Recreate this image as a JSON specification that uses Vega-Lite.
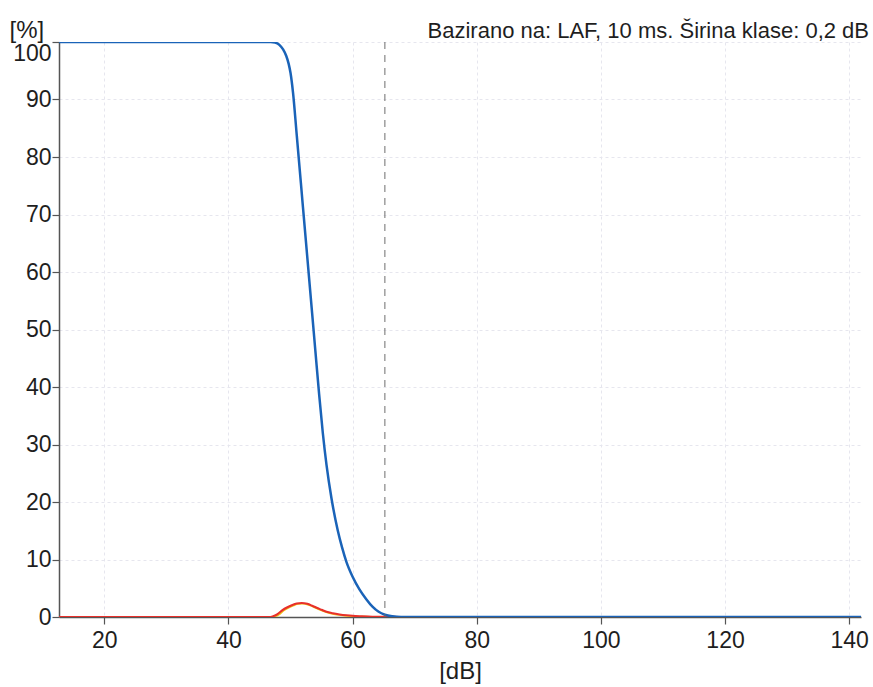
{
  "$schema": "https://vega.github.io/schema/vega-lite/v6.json",
  "autosize": {"type": "none"},
  "width": 802,
  "height": 575,
  "padding": {"left": 59, "top": 42, "right": 12, "bottom": 70},
  "background": "white",
  "title": {
    "text": "Bazirano na: LAF, 10 ms. Širina klase: 0,2 dB",
    "anchor": "end",
    "frame": "group",
    "font": "Liberation Sans",
    "fontSize": 22,
    "fontWeight": "normal",
    "color": "#1e1e1e",
    "dx": 8,
    "dy": 29,
    "offset": 4
  },
  "config": {
    "view": {"stroke": null},
    "axis": {
      "labelFont": "Liberation Sans",
      "labelFontSize": 23,
      "labelColor": "#1e1e1e",
      "titleFont": "Liberation Sans",
      "titleFontSize": 24,
      "titleFontWeight": "normal",
      "titleColor": "#1e1e1e",
      "domainColor": "#555555",
      "domainWidth": 1.5,
      "tickColor": "#555555",
      "tickWidth": 1.2,
      "tickSize": 7,
      "gridColor": "#e6e6ee",
      "gridDash": [3, 3],
      "gridWidth": 1
    }
  },
  "datasets": {
    "curves": [
      {"db": 12.7, "pct": 0, "s": "yellow"},
      {"db": 46.5, "pct": 0, "s": "yellow"},
      {"db": 47.3, "pct": 0.05, "s": "yellow"},
      {"db": 48.1, "pct": 0.4, "s": "yellow"},
      {"db": 48.9, "pct": 1.1, "s": "yellow"},
      {"db": 49.7, "pct": 1.6, "s": "yellow"},
      {"db": 50.5, "pct": 2.0, "s": "yellow"},
      {"db": 51.2, "pct": 2.25, "s": "yellow"},
      {"db": 52.0, "pct": 2.3, "s": "yellow"},
      {"db": 52.9, "pct": 2.1, "s": "yellow"},
      {"db": 53.7, "pct": 1.75, "s": "yellow"},
      {"db": 54.4, "pct": 1.4, "s": "yellow"},
      {"db": 55.2, "pct": 1.05, "s": "yellow"},
      {"db": 56.0, "pct": 0.75, "s": "yellow"},
      {"db": 57.0, "pct": 0.5, "s": "yellow"},
      {"db": 58.1, "pct": 0.33, "s": "yellow"},
      {"db": 59.2, "pct": 0.2, "s": "yellow"},
      {"db": 60.5, "pct": 0.12, "s": "yellow"},
      {"db": 62.0, "pct": 0.06, "s": "yellow"},
      {"db": 64.0, "pct": 0.02, "s": "yellow"},
      {"db": 67.6, "pct": 0, "s": "yellow"},

      {"db": 12.7, "pct": 0, "s": "red"},
      {"db": 46.5, "pct": 0, "s": "red"},
      {"db": 47.1, "pct": 0.1, "s": "red"},
      {"db": 47.9, "pct": 0.5, "s": "red"},
      {"db": 48.7, "pct": 1.2, "s": "red"},
      {"db": 49.5, "pct": 1.7, "s": "red"},
      {"db": 50.3, "pct": 2.1, "s": "red"},
      {"db": 51.0, "pct": 2.35, "s": "red"},
      {"db": 51.8, "pct": 2.45, "s": "red"},
      {"db": 52.7, "pct": 2.3, "s": "red"},
      {"db": 53.5, "pct": 1.95, "s": "red"},
      {"db": 54.2, "pct": 1.6, "s": "red"},
      {"db": 55.0, "pct": 1.25, "s": "red"},
      {"db": 55.8, "pct": 0.9, "s": "red"},
      {"db": 56.8, "pct": 0.65, "s": "red"},
      {"db": 57.9, "pct": 0.45, "s": "red"},
      {"db": 59.0, "pct": 0.3, "s": "red"},
      {"db": 60.0, "pct": 0.2, "s": "red"},
      {"db": 61.5, "pct": 0.12, "s": "red"},
      {"db": 63.2, "pct": 0.05, "s": "red"},
      {"db": 65.0, "pct": 0.02, "s": "red"},
      {"db": 67.6, "pct": 0, "s": "red"},
      {"db": 141.9, "pct": 0, "s": "red"},

      {"db": 12.7, "pct": 100, "s": "blue"},
      {"db": 46.8, "pct": 100, "s": "blue"},
      {"db": 47.5, "pct": 99.9, "s": "blue"},
      {"db": 48.2, "pct": 99.5, "s": "blue"},
      {"db": 48.8, "pct": 98.7, "s": "blue"},
      {"db": 49.3, "pct": 97.6, "s": "blue"},
      {"db": 49.7, "pct": 96.2, "s": "blue"},
      {"db": 50.0, "pct": 94.6, "s": "blue"},
      {"db": 50.4, "pct": 91.2, "s": "blue"},
      {"db": 51.0, "pct": 83.8, "s": "blue"},
      {"db": 52.0, "pct": 71.3, "s": "blue"},
      {"db": 53.0, "pct": 58.8, "s": "blue"},
      {"db": 54.0, "pct": 46.3, "s": "blue"},
      {"db": 54.6, "pct": 38.8, "s": "blue"},
      {"db": 55.2, "pct": 32.0, "s": "blue"},
      {"db": 55.8, "pct": 26.4, "s": "blue"},
      {"db": 56.6, "pct": 20.6, "s": "blue"},
      {"db": 57.6, "pct": 15.1, "s": "blue"},
      {"db": 58.3, "pct": 12.1, "s": "blue"},
      {"db": 59.0, "pct": 9.6, "s": "blue"},
      {"db": 60.0, "pct": 7.0, "s": "blue"},
      {"db": 61.1, "pct": 4.8, "s": "blue"},
      {"db": 62.2, "pct": 3.1, "s": "blue"},
      {"db": 63.2, "pct": 1.8, "s": "blue"},
      {"db": 64.2, "pct": 0.9, "s": "blue"},
      {"db": 65.2, "pct": 0.4, "s": "blue"},
      {"db": 66.4, "pct": 0.12, "s": "blue"},
      {"db": 67.8, "pct": 0, "s": "blue"},
      {"db": 141.9, "pct": 0, "s": "blue"}
    ],
    "marker": [{"db": 65.2}]
  },
  "layer": [
    {
      "data": {"name": "curves"},
      "mark": {"type": "line", "interpolate": "monotone", "clip": true},
      "encoding": {
        "x": {
          "field": "db", "type": "quantitative",
          "scale": {"domain": [12.7, 141.9], "nice": false, "zero": false},
          "axis": {
            "values": [20, 40, 60, 80, 100, 120, 140],
            "title": "[dB]",
            "titleY": 42,
            "titleBaseline": "top",
            "labelPadding": 5,
            "labelFlush": false,
            "grid": true
          }
        },
        "y": {
          "field": "pct", "type": "quantitative",
          "scale": {"domain": [0, 100], "nice": false},
          "axis": {
            "values": [0, 10, 20, 30, 40, 50, 60, 70, 80, 90, 100],
            "title": "[%]",
            "titleAngle": 0,
            "titleAlign": "left",
            "titleBaseline": "bottom",
            "titleX": -50,
            "titleY": 0,
            "labelPadding": 1,
            "labelFlush": false,
            "labelBaseline": {"expr": "datum.value == 100 ? 'top' : 'middle'"},
            "grid": true
          }
        },
        "color": {
          "field": "s", "type": "nominal",
          "scale": {"domain": ["yellow", "red", "blue"], "range": ["#f0c419", "#e8302a", "#1a63b8"]},
          "legend": null
        },
        "strokeWidth": {
          "field": "s", "type": "nominal",
          "scale": {"domain": ["yellow", "red", "blue"], "range": [1.6, 2.5, 3]},
          "legend": null
        },
        "order": {"field": "s", "sort": "descending"}
      }
    },
    {
      "data": {"name": "marker"},
      "mark": {"type": "rule", "color": "#6e6e6e", "strokeWidth": 1, "strokeDash": [7, 6]},
      "encoding": {
        "x": {"field": "db", "type": "quantitative"}
      }
    }
  ]
}
